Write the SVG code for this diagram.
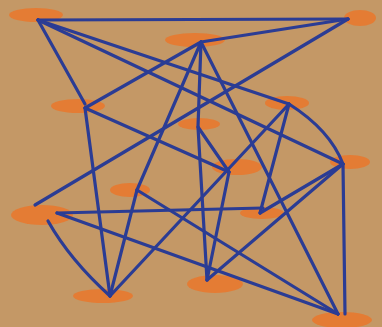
<svg xmlns="http://www.w3.org/2000/svg" width="382" height="327" viewBox="0 0 382 327">
<style>
.bg{fill:#c49866}
.n{fill:#e8792f;opacity:0.9}
.e{stroke:#2b3c94;stroke-width:3.2;fill:none;stroke-linecap:round}
</style>
<rect class="bg" x="0" y="0" width="382" height="327"/>
<g id="A"><ellipse class="n" cx="36" cy="15" rx="27" ry="7"/></g>
<g id="B"><ellipse class="n" cx="360" cy="18" rx="16" ry="8"/></g>
<g id="C"><ellipse class="n" cx="195" cy="40" rx="30" ry="7"/></g>
<g id="D"><ellipse class="n" cx="78" cy="106" rx="27" ry="7"/></g>
<g id="E"><ellipse class="n" cx="287" cy="103" rx="22" ry="7"/></g>
<g id="F"><ellipse class="n" cx="199" cy="124" rx="21" ry="6"/></g>
<g id="G"><ellipse class="n" cx="350" cy="162" rx="20" ry="7"/></g>
<g id="H"><ellipse class="n" cx="237" cy="167" rx="25" ry="8"/></g>
<g id="I"><ellipse class="n" cx="130" cy="190" rx="20" ry="7"/></g>
<g id="J"><ellipse class="n" cx="42" cy="215" rx="31" ry="10"/></g>
<g id="K"><ellipse class="n" cx="262" cy="213" rx="22" ry="6"/></g>
<g id="L"><ellipse class="n" cx="103" cy="296" rx="30" ry="7"/></g>
<g id="M"><ellipse class="n" cx="215" cy="284" rx="28" ry="9"/></g>
<g id="N"><ellipse class="n" cx="342" cy="320" rx="30" ry="8"/></g>
<g id="edges">
<path class="e" d="M38 20 L348 19"/>
<path class="e" d="M38 20 L85 104"/>
<path class="e" d="M38 20 L289 104"/>
<path class="e" d="M38 20 L343 164"/>
<path class="e" d="M201 42 L348 19"/>
<path class="e" d="M348 19 L35 205"/>
<path class="e" d="M201 42 L85 108"/>
<path class="e" d="M85 108 L229 172"/>
<path class="e" d="M85 108 L110 296"/>
<path class="e" d="M201 42 L137 190"/>
<path class="e" d="M201 42 L198 127 L207 280"/>
<path class="e" d="M201 42 L338 314"/>
<path class="e" d="M289 104 Q330 130 343 164"/>
<path class="e" d="M289 104 L110 296"/>
<path class="e" d="M289 104 L260 213"/>
<path class="e" d="M343 164 L345 314"/>
<path class="e" d="M343 164 L207 280"/>
<path class="e" d="M57 213 L263 208"/>
<path class="e" d="M57 213 L338 314"/>
<path class="e" d="M137 190 L338 314"/>
<path class="e" d="M137 190 L110 296"/>
<path class="e" d="M48 221 Q70 260 110 296"/>
<path class="e" d="M198 127 L229 172"/>
<path class="e" d="M229 172 L207 280"/>
<path class="e" d="M260 213 L343 164"/>
</g>
</svg>
